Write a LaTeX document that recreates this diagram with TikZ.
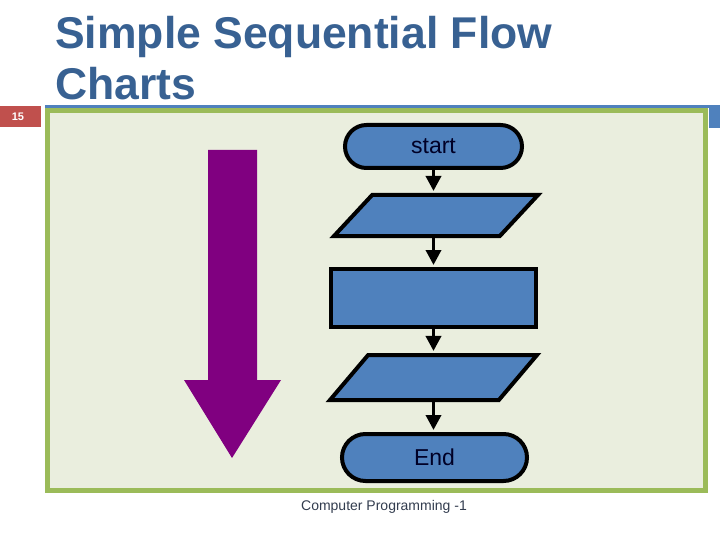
\documentclass[tikz,border=0pt]{standalone}
\usepackage{fontspec}
\setmainfont{Liberation Sans}
\usetikzlibrary{positioning,arrows.meta,shapes.misc,shapes.geometric}
\definecolor{titleblue}{RGB}{56,97,146}
\definecolor{barblue}{RGB}{79,129,189}
\definecolor{slidered}{RGB}{192,80,77}
\definecolor{framegreen}{RGB}{155,187,89}
\definecolor{paneback}{RGB}{234,238,222}
\definecolor{boxblue}{RGB}{79,129,189}
\definecolor{footgray}{RGB}{50,60,78}
\definecolor{arrowpurple}{RGB}{128,0,128}
\tikzset{
  flow/.style={draw=black, line width=4pt, fill=boxblue, text=black!85!blue,
    font=\fontsize{23}{26}\selectfont, inner sep=3pt},
  term/.style={flow, rounded rectangle},
  io/.style={flow, trapezium, trapezium left angle=40, trapezium right angle=140,
    trapezium stretches body=true},
  proc/.style={flow, rectangle},
  conn/.style={line width=3.5pt, shorten >=2pt, -{Triangle[width=15pt,length=15pt]}}
}
\begin{document}
\begin{tikzpicture}[x=1pt,y=-1pt]
\useasboundingbox (0,0) rectangle (720,540);
% slide frame
\fill[barblue] (45,105) rectangle (720,108);
\fill[barblue] (709,105) rectangle (720,128);
\fill[slidered] (0,106) rectangle (41,127);
\node[text=white, font=\fontsize{11}{12}\bfseries\selectfont] (pagenum) at (18,116.5) {15};
\draw[framegreen, line width=5pt, fill=paneback] (47.5,110.5) rectangle (705.5,490.5);
% title
\node[anchor=base west, inner sep=0pt, text=titleblue, font=\fontsize{44.5}{50}\bfseries\selectfont] (title1) at (55,49) {Simple Sequential Flow};
\node[anchor=base west, inner sep=0pt, text=titleblue, font=\fontsize{44.5}{50}\bfseries\selectfont] (title2) at (55,100) {Charts};
% direction arrow
\fill[arrowpurple]
  (208,150) -- (257,150) -- (257,380) -- (281,380) -- (232,458) -- (184,380) -- (208,380) -- cycle;
% flow chart
\node[term, minimum width=183pt, minimum height=43pt] (start) at (433.5,146.5) {start};
\node[io, minimum width=204pt, minimum height=41pt] (input) at (436,215.5) {\strut};
\node[proc, minimum width=205pt, minimum height=58pt] (calc) at (433.5,298) {};
\node[io, minimum width=207pt, minimum height=45pt] (output) at (433.5,377.5) {\strut};
\node[term, minimum width=191pt, minimum height=47pt] (stop) at (434.5,457.5) {End};
\draw[conn] (start.south) -- (start.south |- input.north);
\draw[conn] (start.south |- input.south) -- (start.south |- calc.north);
\draw[conn] (start.south |- calc.south) -- (start.south |- output.north);
\draw[conn] (start.south |- output.south) -- (start.south |- stop.north);
% footer
\node[text=footgray, font=\fontsize{14}{16}\selectfont] (footer) at (384,507) {Computer Programming -1};
\end{tikzpicture}
\end{document}
